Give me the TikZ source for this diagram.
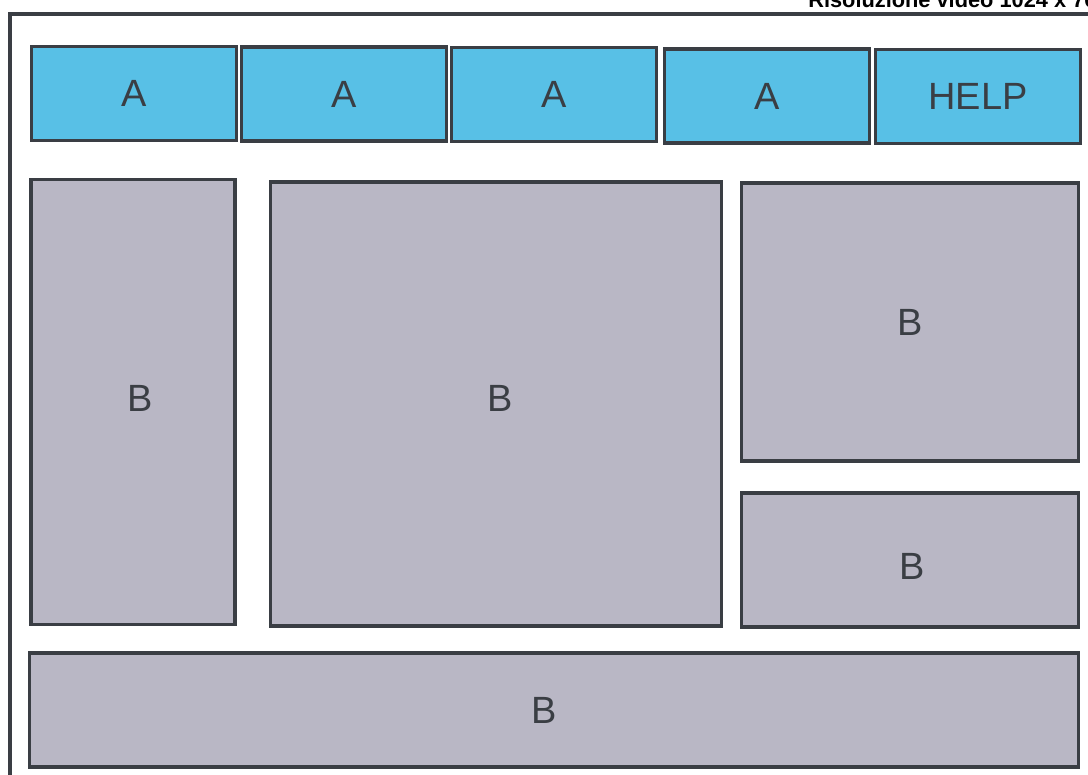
\documentclass[tikz,border=0pt]{standalone}
\usepackage{fontspec}
\setmainfont{Liberation Sans}
\usepackage{tikz}
\usetikzlibrary{positioning}
\definecolor{menucyan}{RGB}{88, 192, 230}
\definecolor{panelgray}{RGB}{185, 183, 197}
\definecolor{edgegray}{RGB}{58, 62, 68}

\begin{document}
\begin{tikzpicture}[
  menubox/.style={rectangle, draw=edgegray, line width=2.2pt, fill=menucyan, text=edgegray, font=\fontsize{27}{30}\selectfont, minimum width=5.12cm, minimum height=2.35cm, inner sep=0pt},
  panelbox/.style={rectangle, draw=edgegray, line width=2.2pt, fill=panelgray, text=edgegray, font=\fontsize{27}{30}\selectfont, inner sep=0pt},
  panellabel/.style={font=\fontsize{27}{30}\selectfont, text=edgegray, inner sep=0pt}
]
\useasboundingbox (0,0) rectangle (27.2,-19.375);
\clip (0,0) rectangle (27.2,-19.375);
% outer frame, runs off the page
\draw[edgegray, line width=2.2pt] (0.25,-0.35) rectangle (28,-20);
\node[anchor=base west, font=\bfseries\fontsize{15.5}{17}\selectfont, text=black, inner sep=0pt] (title) at (20.2,-0.18) {Risoluzione video 1024 x 768};
% menu bar
\node[menubox] (a1) at (3.35,-2.33) {A};
\node[menubox] (a2) at (8.6,-2.35) {A};
\node[menubox] (a3) at (13.85,-2.36) {A};
\node[menubox] (a4) at (19.175,-2.4) {A};
\node[menubox] (help) at (24.45,-2.42) {HELP};
% panels
\node[panelbox, minimum width=5.1cm, minimum height=11.125cm] (bleft) at (3.325,-10.06) {};
\node[panellabel] (bleftlabel) at (3.5,-9.95) {B};
\node[panelbox, minimum width=11.275cm, minimum height=11.1cm] (bmid) at (12.39,-10.1) {};
\node[panellabel] (bmidlabel) at (12.5,-9.95) {B};
\node[panelbox, minimum width=8.425cm, minimum height=6.95cm] (bright) at (22.76,-8.05) {B};
\node[panelbox, minimum width=8.425cm, minimum height=3.35cm] (bsmall) at (22.76,-14.0) {};
\node[panellabel] (bsmalllabel) at (22.8,-14.15) {B};
\node[panelbox, minimum width=26.225cm, minimum height=2.85cm] (bbottom) at (13.86,-17.75) {};
\node[panellabel] (bbottomlabel) at (13.6,-17.75) {B};
\end{tikzpicture}
\end{document}
